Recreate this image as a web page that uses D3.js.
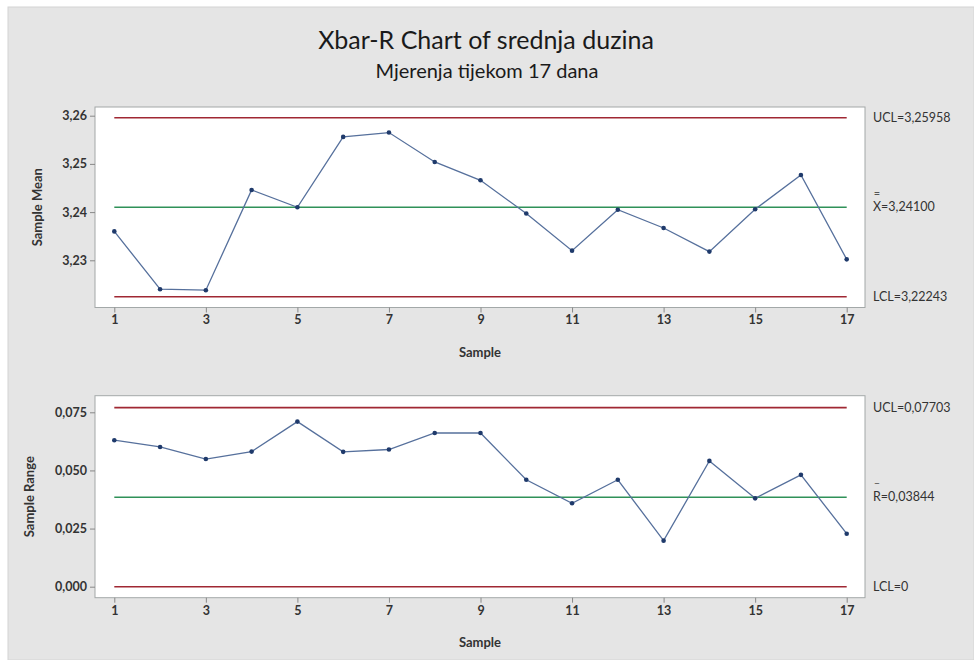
<!DOCTYPE html>
<html><head><meta charset="utf-8">
<script src="https://cdn.jsdelivr.net/npm/d3@7/dist/d3.min.js"></script>
<style>body{margin:0;background:#fff;}svg{display:block;}</style>
</head><body>
<svg id="chart" width="974" height="660"></svg>
<script>
const samples = d3.range(1, 18);
const xTicks = [1,3,5,7,9,11,13,15,17];
const meanValues = [3.2360,3.2240,3.2238,3.2446,3.2410,3.2556,3.2565,3.2504,3.2466,3.2397,3.2320,3.2405,3.2367,3.2318,3.2406,3.2477,3.2302];
const rangeValues = [0.0630,0.0601,0.0549,0.0581,0.0710,0.0580,0.0590,0.0661,0.0661,0.0460,0.0359,0.0460,0.0198,0.0541,0.0380,0.0481,0.0228];
const meanLimits = {ucl:3.25958, center:3.24100, lcl:3.22243};
const rangeLimits = {ucl:0.07703, center:0.03844, lcl:0};
const meanTicks = [3.23,3.24,3.25,3.26];
const rangeTicks = [0,0.025,0.05,0.075];
const meanLabels = ["UCL=3,25958","X=3,24100","LCL=3,22243"];
const rangeLabels = ["UCL=0,07703","R=0,03844","LCL=0"];

const svg = d3.select("#chart");
const FONT = "Lato, 'Open Sans', sans-serif";
svg.append("rect").attr("x",8).attr("y",7).attr("width",966).attr("height",653).attr("fill","#e5e5e5").attr("stroke","#d4d4d4");

svg.append("text").attr("x",486).attr("y",49).attr("text-anchor","middle")
  .attr("font-family",FONT).attr("font-size",25).attr("fill","#1a1a1a").text("Xbar-R Chart of srednja duzina");
svg.append("text").attr("x",487).attr("y",78).attr("text-anchor","middle")
  .attr("font-family",FONT).attr("font-size",20).attr("fill","#1a1a1a").text("Mjerenja tijekom 17 dana");

const comma = d3.formatLocale({decimal:",", thousands:".", grouping:[3], currency:["",""]});

const x = d3.scaleLinear().domain([1,17]).range([114.3, 846.7]);

function panel(top, bottom, yDomain, yRange, ticks, tickFmt, values, limits, labels, yTitle, titleX, barChar) {
  const y = d3.scaleLinear().domain(yDomain).range(yRange);
  const g = svg.append("g");
  g.append("rect").attr("x",95).attr("y",top).attr("width",770).attr("height",bottom-top)
    .attr("fill","#fff").attr("stroke","#a3a8a8").attr("stroke-width",1);
  const ya = g.append("g").attr("transform","translate(95,0)").call(d3.axisLeft(y).tickValues(ticks).tickFormat(tickFmt).tickSize(5).tickPadding(3));
  ya.select(".domain").remove();
  ya.selectAll("line").attr("stroke","#888");
  ya.selectAll("text").attr("font-family",FONT).attr("font-size",12.5).attr("font-weight",700).attr("fill","#333");
  const xa = g.append("g").attr("transform",`translate(0,${bottom})`).call(d3.axisBottom(x).tickValues(xTicks).tickFormat(d3.format("d")).tickSize(5).tickPadding(3));
  xa.select(".domain").remove();
  xa.selectAll("line").attr("stroke","#888");
  xa.selectAll("text").attr("font-family",FONT).attr("font-size",12.5).attr("font-weight",700).attr("fill","#333");
  g.append("text").attr("x",480).attr("y",bottom+49).attr("text-anchor","middle")
    .attr("font-family",FONT).attr("font-size",13).attr("font-weight",700).attr("fill","#333").text("Sample");
  g.append("text").attr("transform",`translate(${titleX},${(top+bottom)/2}) rotate(-90)`).attr("text-anchor","middle")
    .attr("font-family",FONT).attr("font-size",13).attr("font-weight",700).attr("fill","#333").text(yTitle);
  const lim = [["ucl","#a02833"],["center","#2f9158"],["lcl","#a02833"]];
  lim.forEach(([k,c]) => {
    g.append("line").attr("x1",x(1)).attr("x2",x(17)).attr("y1",y(limits[k])).attr("y2",y(limits[k]))
      .attr("stroke",c).attr("stroke-width",1.6);
  });
  lim.forEach(([k],i) => {
    g.append("text").attr("x",873).attr("y",y(limits[k])+4).attr("font-family",FONT).attr("font-size",12.5)
      .attr("fill","#333").text(labels[i]);
  });
  g.append("text").attr("x",877).attr("y",y(limits.center)-10).attr("text-anchor","middle").attr("font-family",FONT).attr("font-size",11)
    .attr("fill","#555").text(barChar);
  const line = d3.line().x((d,i)=>x(samples[i])).y(d=>y(d));
  g.append("path").datum(values).attr("d",line).attr("fill","none").attr("stroke","#56709c").attr("stroke-width",1.3);
  g.selectAll("circle.pt").data(values).join("circle").attr("class","pt")
    .attr("cx",(d,i)=>x(samples[i])).attr("cy",d=>y(d)).attr("r",2.3).attr("fill","#1f3a6b");
}

panel(107, 307.5, [3.23,3.26], [260.3,115.7], meanTicks, comma.format(".2f"), meanValues, meanLimits, meanLabels, "Sample Mean", 42, "=");
panel(395.7, 597.7, [0,0.075], [586.7,412.3], rangeTicks, comma.format(".3f"), rangeValues, rangeLimits, rangeLabels, "Sample Range", 34, "–");
</script>
</body></html>
